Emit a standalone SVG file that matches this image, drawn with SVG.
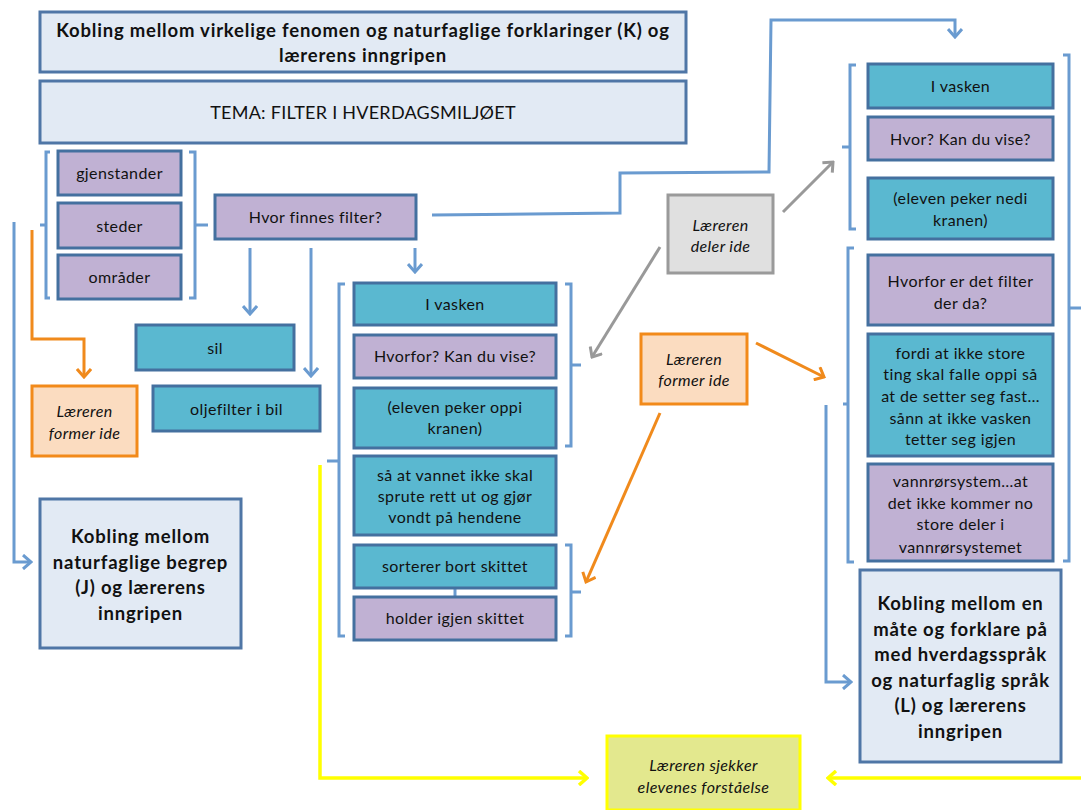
<svg xmlns="http://www.w3.org/2000/svg" width="1081" height="810" viewBox="0 0 1081 810">
  <style>
    .hdr { fill: #e2eaf4; stroke: #4f76a6; stroke-width: 3; }
    .teal { fill: #5ab8d0; stroke: #44709f; stroke-width: 3; }
    .purple { fill: #c0b1d3; stroke: #44709f; stroke-width: 3; }
    .orange { fill: #fbdcc0; stroke: #f28a1a; stroke-width: 3; }
    .grey { fill: #e0e0e0; stroke: #9a9a9a; stroke-width: 3; }
    .yellow { fill: #e3e88e; stroke: #ffff00; stroke-width: 3; }
    .t { font-family: Lato, "Open Sans", sans-serif; font-size: 16px; letter-spacing: 0.4px; fill: #111; text-anchor: middle; }
    .b { font-family: Lato, "Open Sans", sans-serif; font-size: 18.5px; letter-spacing: 0.8px; font-weight: bold; fill: #111; text-anchor: middle; }
    .i { font-style: italic; }
    .br { fill: none; stroke: #6a9bd0; stroke-width: 3; }
    .blue { fill: none; stroke: #6a9bd0; stroke-width: 3; }
    .org { fill: none; stroke: #f08a1c; stroke-width: 3; }
    .gry { fill: none; stroke: #999; stroke-width: 3; }
    .yel { fill: none; stroke: #ffff00; stroke-width: 3.5; }
  </style>
  <defs>
    <marker id="ahBlue" markerUnits="userSpaceOnUse" viewBox="-10 -8 12 16" refX="0" refY="0" markerWidth="12" markerHeight="16" orient="auto">
      <path d="M-8,-7 L0,0 L-8,7" fill="none" stroke="#6a9bd0" stroke-width="3"/>
    </marker>
    <marker id="ahOrange" markerUnits="userSpaceOnUse" viewBox="-10 -8 12 16" refX="0" refY="0" markerWidth="12" markerHeight="16" orient="auto">
      <path d="M-8,-7 L0,0 L-8,7" fill="none" stroke="#f08a1c" stroke-width="3"/>
    </marker>
    <marker id="ahGrey" markerUnits="userSpaceOnUse" viewBox="-10 -8 12 16" refX="0" refY="0" markerWidth="12" markerHeight="16" orient="auto">
      <path d="M-8,-7 L0,0 L-8,7" fill="none" stroke="#999" stroke-width="3"/>
    </marker>
    <marker id="ahYellow" markerUnits="userSpaceOnUse" viewBox="-10 -8 12 16" refX="0" refY="0" markerWidth="12" markerHeight="16" orient="auto">
      <path d="M-8,-7 L0,0 L-8,7" fill="none" stroke="#ffff00" stroke-width="3.5"/>
    </marker>
  </defs>

  <!-- brackets grouping the boxes -->
  <g id="brackets">
    <path class="br" d="M50,152 H46 V298 H50 M46,225 H40"/>
    <path class="br" d="M189,152 H195 V298 H189 M195,225 H208"/>
    <path class="br" d="M345,284 H339 V636 H345 M339,461 H327"/>
    <path class="br" d="M565,284 H571 V446 H565 M571,365 H581"/>
    <path class="br" d="M565,545 H571 V636 H565 M571,592 H581"/>
    <path class="br" d="M856,65 H850 V229 H856 M850,147 H842"/>
    <path class="br" d="M854,248 H848 V562 H854 M848,404 H843"/>
    <path class="br" d="M1063,55 H1069 V561 H1063 M1069,308 H1081"/>
  </g>

  <!-- connectors -->
  <g id="connectors">
    <path class="blue" d="M432,215 L620,213 L620,173 L769,172 L771,20 L955,20 L955,37" marker-end="url(#ahBlue)"/>
    <path class="blue" d="M250,248 V314" marker-end="url(#ahBlue)"/>
    <path class="blue" d="M311,248 V376" marker-end="url(#ahBlue)"/>
    <path class="blue" d="M415,248 V272" marker-end="url(#ahBlue)"/>
    <path class="blue" d="M14,222 V562 H31" marker-end="url(#ahBlue)"/>
    <path class="blue" d="M826,405 V682 H851" marker-end="url(#ahBlue)"/>
    <path class="blue" d="M455,588 V597"/>
    <path class="org" d="M32,230 V339 H84 V377" marker-end="url(#ahOrange)"/>
    <path class="org" d="M756,343 L824,377" marker-end="url(#ahOrange)"/>
    <path class="org" d="M660,413 L586,582" marker-end="url(#ahOrange)"/>
    <path class="gry" d="M783,212 L833,162" marker-end="url(#ahGrey)"/>
    <path class="gry" d="M660,247 L592,357" marker-end="url(#ahGrey)"/>
    <path class="yel" d="M320,465 V778 H587" marker-end="url(#ahYellow)"/>
    <path class="yel" d="M1081,778 H828" marker-end="url(#ahYellow)"/>
  </g>

  <g id="title">
    <rect class="hdr" x="40" y="12" width="646" height="60"/>
    <text class="b" x="363" y="37">Kobling mellom virkelige fenomen og naturfaglige forklaringer (K) og</text>
    <text class="b" x="363" y="62">lærerens inngripen</text>
  </g>
  <g id="tema">
    <rect class="hdr" x="40" y="81" width="646" height="62"/>
    <text class="t" x="363" y="119" style="font-size:18px;letter-spacing:0.25px">TEMA: FILTER I HVERDAGSMILJØET</text>
  </g>

  <g id="gjenstander"><rect class="purple" x="58" y="151" width="123" height="44"/><text class="t" x="119.5" y="179">gjenstander</text></g>
  <g id="steder"><rect class="purple" x="58" y="203" width="123" height="45"/><text class="t" x="119.5" y="232">steder</text></g>
  <g id="omrader"><rect class="purple" x="58" y="255" width="123" height="44"/><text class="t" x="119.5" y="283">områder</text></g>
  <g id="hvor-finnes"><rect class="purple" x="215" y="195" width="201" height="44"/><text class="t" x="315.5" y="223">Hvor finnes filter?</text></g>
  <g id="sil"><rect class="teal" x="136" y="325" width="158" height="45"/><text class="t" x="215" y="354">sil</text></g>
  <g id="oljefilter"><rect class="teal" x="153" y="386" width="167" height="45"/><text class="t" x="236.5" y="415">oljefilter i bil</text></g>
  <g id="former-ide-1"><rect class="orange" x="32" y="386" width="105" height="70"/><text class="t i" x="84.5" y="417">Læreren</text><text class="t i" x="84.5" y="439">former ide</text></g>
  <g id="kobling-j">
    <rect class="hdr" x="40" y="499" width="201" height="149"/>
    <text class="b" x="140.5" y="543">Kobling mellom</text>
    <text class="b" x="140.5" y="569">naturfaglige begrep</text>
    <text class="b" x="140.5" y="594">(J) og lærerens</text>
    <text class="b" x="140.5" y="620">inngripen</text>
  </g>

  <g id="vasken-1"><rect class="teal" x="354" y="283" width="202" height="42"/><text class="t" x="455" y="310">I vasken</text></g>
  <g id="hvorfor-1"><rect class="purple" x="354" y="335" width="202" height="43"/><text class="t" x="455" y="362">Hvorfor? Kan du vise?</text></g>
  <g id="oppi-kranen"><rect class="teal" x="354" y="388" width="202" height="60"/><text class="t" x="455" y="413">(eleven peker oppi</text><text class="t" x="455" y="434">kranen)</text></g>
  <g id="sa-at-vannet"><rect class="teal" x="354" y="456" width="202" height="79"/><text class="t" x="455" y="481">så at vannet ikke skal</text><text class="t" x="455" y="502">sprute rett ut og gjør</text><text class="t" x="455" y="523">vondt på hendene</text></g>
  <g id="sorterer"><rect class="teal" x="354" y="545" width="202" height="43"/><text class="t" x="455" y="572">sorterer bort skittet</text></g>
  <g id="holder"><rect class="purple" x="354" y="597" width="202" height="43"/><text class="t" x="455" y="624">holder igjen skittet</text></g>

  <g id="deler-ide"><rect class="grey" x="668" y="195" width="105" height="78"/><text class="t i" x="720.5" y="231">Læreren</text><text class="t i" x="720.5" y="252">deler ide</text></g>
  <g id="former-ide-2"><rect class="orange" x="641" y="334" width="106" height="70"/><text class="t i" x="694" y="365">Læreren</text><text class="t i" x="694" y="386">former ide</text></g>
  <g id="sjekker"><rect class="yellow" x="607" y="736" width="193" height="74"/><text class="t i" x="703.5" y="771">Læreren sjekker</text><text class="t i" x="703.5" y="793">elevenes forståelse</text></g>

  <g id="vasken-2"><rect class="teal" x="868" y="64" width="185" height="44"/><text class="t" x="960.5" y="92">I vasken</text></g>
  <g id="hvor-2"><rect class="purple" x="868" y="117" width="185" height="43"/><text class="t" x="960.5" y="145">Hvor? Kan du vise?</text></g>
  <g id="nedi-kranen"><rect class="teal" x="868" y="178" width="185" height="61"/><text class="t" x="960.5" y="204">(eleven peker nedi</text><text class="t" x="960.5" y="226">kranen)</text></g>
  <g id="hvorfor-2"><rect class="purple" x="868" y="255" width="185" height="70"/><text class="t" x="960.5" y="287">Hvorfor er det filter</text><text class="t" x="960.5" y="309">der da?</text></g>
  <g id="fordi"><rect class="teal" x="868" y="334" width="185" height="122"/><text class="t" x="960.5" y="359">fordi at ikke store</text><text class="t" x="960.5" y="380">ting skal falle oppi så</text><text class="t" x="960.5" y="402">at de setter seg fast…</text><text class="t" x="960.5" y="424">sånn at ikke vasken</text><text class="t" x="960.5" y="445">tetter seg igjen</text></g>
  <g id="vannror"><rect class="purple" x="868" y="464" width="185" height="97"/><text class="t" x="960.5" y="487">vannrørsystem…at</text><text class="t" x="960.5" y="509">det ikke kommer no</text><text class="t" x="960.5" y="530">store deler i</text><text class="t" x="960.5" y="553">vannrørsystemet</text></g>
  <g id="kobling-l">
    <rect class="hdr" x="860" y="570" width="201" height="192"/>
    <text class="b" x="960.5" y="610">Kobling mellom en</text>
    <text class="b" x="960.5" y="636">måte og forklare på</text>
    <text class="b" x="960.5" y="661">med hverdagsspråk</text>
    <text class="b" x="960.5" y="687">og naturfaglig språk</text>
    <text class="b" x="960.5" y="712">(L) og lærerens</text>
    <text class="b" x="960.5" y="738">inngripen</text>
  </g>
</svg>
